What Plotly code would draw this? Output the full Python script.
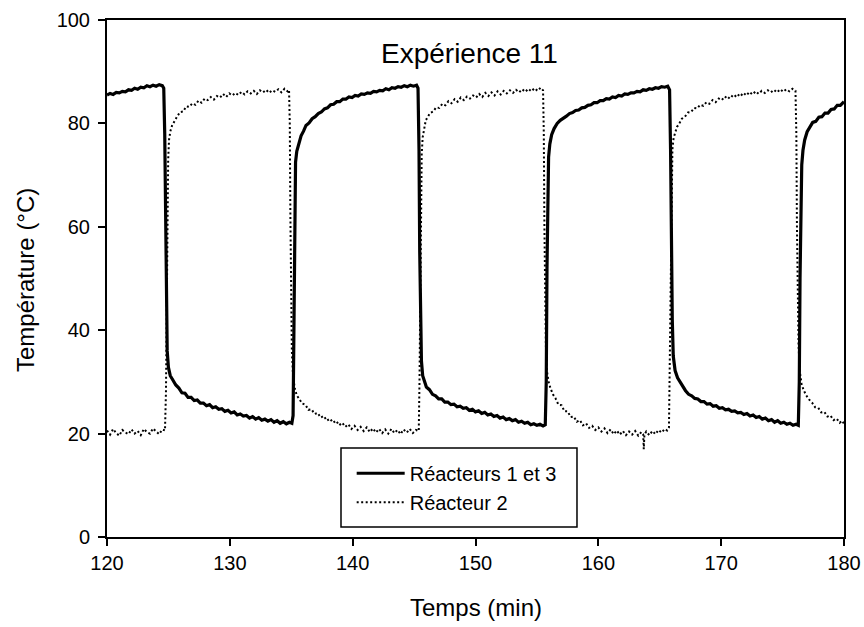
import plotly.graph_objects as go

# ---------------- data ----------------
time_r13 = [
    120.0, 120.25, 120.5, 120.75, 121.0, 121.25, 121.5, 121.75, 122.0, 122.25, 122.5, 122.75,
    123.0, 123.25, 123.5, 123.75, 124.0, 124.25, 124.5,
    124.62, 124.7, 124.76, 124.82, 124.9, 125.0, 125.15, 125.3, 125.45,
    125.6, 125.85, 126.1, 126.35, 126.6, 126.85, 127.1, 127.35, 127.6, 127.85, 128.1, 128.35,
    128.6, 128.85, 129.1, 129.35, 129.6, 129.85, 130.1, 130.35, 130.6, 130.85, 131.1, 131.35,
    131.6, 131.85, 132.1, 132.35, 132.6, 132.85, 133.1, 133.35, 133.6, 133.85, 134.1, 134.35,
    134.6, 134.85, 135.05,
    135.15, 135.22, 135.28, 135.35, 135.45, 135.6, 135.8, 136.0, 136.2, 136.45, 136.7, 136.95,
    137.2, 137.45, 137.7, 137.95, 138.2, 138.45, 138.7, 138.95, 139.2, 139.45, 139.7, 139.95,
    140.2, 140.45, 140.7, 140.95, 141.2, 141.45, 141.7, 141.95, 142.2, 142.45, 142.7, 142.95,
    143.2, 143.45, 143.7, 143.95, 144.2, 144.45, 144.7, 144.95, 145.2,
    145.32, 145.4, 145.46, 145.52, 145.6, 145.7, 145.85,
    146.0, 146.25, 146.5, 146.75, 147.0, 147.25, 147.5, 147.75, 148.0, 148.25, 148.5, 148.75,
    149.0, 149.25, 149.5, 149.75, 150.0, 150.25, 150.5, 150.75, 151.0, 151.25, 151.5, 151.75,
    152.0, 152.25, 152.5, 152.75, 153.0, 153.25, 153.5, 153.75, 154.0, 154.25, 154.5, 154.75,
    155.0, 155.25, 155.5, 155.68,
    155.76, 155.82, 155.88, 155.95, 156.05, 156.2, 156.4, 156.65, 156.9, 157.15, 157.4, 157.65,
    157.9, 158.15, 158.4, 158.65, 158.9, 159.15, 159.4, 159.65, 159.9, 160.15, 160.4, 160.65,
    160.9, 161.15, 161.4, 161.65, 161.9, 162.15, 162.4, 162.65, 162.9, 163.15, 163.4, 163.65,
    163.9, 164.15, 164.4, 164.65, 164.9, 165.15, 165.4, 165.65,
    165.8, 165.88, 165.95, 166.02, 166.1, 166.25, 166.45, 166.65,
    166.85, 167.1, 167.35, 167.6, 167.85, 168.1, 168.35, 168.6, 168.85, 169.1, 169.35, 169.6,
    169.85, 170.1, 170.35, 170.6, 170.85, 171.1, 171.35, 171.6, 171.85, 172.1, 172.35, 172.6,
    172.85, 173.1, 173.35, 173.6, 173.85, 174.1, 174.35, 174.6, 174.85, 175.1, 175.35, 175.6,
    175.85, 176.1, 176.28,
    176.36, 176.42, 176.48, 176.56, 176.66, 176.8, 177.0, 177.2, 177.45, 177.7, 177.95, 178.2,
    178.45, 178.7, 178.95, 179.2, 179.45, 179.7, 180.0,
]
temp_r13 = [
    85.5, 85.8, 85.6, 86.0, 85.9, 86.2, 86.1, 86.5, 86.4, 86.8, 86.6, 87.0,
    86.9, 87.3, 87.1, 87.4, 87.2, 87.5, 87.3,
    86.8, 78.0, 60.0, 45.0, 36.0, 32.8, 31.2, 30.6, 29.9,
    29.4, 28.8, 27.9, 27.8, 27.0, 27.0, 26.4, 26.5, 25.9, 25.9, 25.4, 25.6,
    25.0, 25.2, 24.7, 24.8, 24.3, 24.5, 24.0, 24.2, 23.6, 23.8, 23.4, 23.5,
    23.0, 23.3, 22.8, 23.1, 22.6, 22.8, 22.4, 22.7, 22.2, 22.5, 22.0, 22.3,
    21.9, 22.2, 22.0,
    23.5, 45.0, 66.0, 72.5, 74.6, 76.0, 77.6, 78.5, 79.6, 80.1, 80.9, 81.3,
    81.9, 82.2, 82.8, 83.0, 83.6, 83.7, 84.2, 84.2, 84.7, 84.7, 85.1, 85.0,
    85.4, 85.3, 85.7, 85.6, 85.9, 85.8, 86.2, 86.1, 86.4, 86.3, 86.7, 86.5,
    86.9, 86.8, 87.1, 87.0, 87.3, 87.1, 87.4, 87.2, 87.4,
    86.8, 75.0, 55.0, 42.0, 34.0, 31.2, 30.0,
    29.0, 28.5, 27.6, 27.3, 26.7, 26.7, 26.1, 26.1, 25.6, 25.7, 25.2, 25.3,
    24.9, 25.0, 24.5, 24.7, 24.2, 24.4, 23.9, 24.1, 23.6, 23.8, 23.3, 23.5,
    23.0, 23.2, 22.7, 22.9, 22.5, 22.7, 22.2, 22.4, 22.0, 22.2, 21.7, 21.9,
    21.6, 21.8, 21.5, 21.7,
    30.0, 52.0, 68.0, 73.5, 76.0, 77.8, 79.0, 80.0, 80.6, 81.1, 81.4, 81.9,
    82.1, 82.5, 82.6, 83.0, 83.1, 83.5, 83.6, 84.0, 84.0, 84.4, 84.4, 84.8,
    84.7, 85.1, 85.0, 85.4, 85.3, 85.7, 85.6, 85.9, 85.9, 86.2, 86.1, 86.5,
    86.4, 86.7, 86.6, 86.9, 86.8, 87.1, 87.0, 87.2,
    86.5, 75.0, 55.0, 42.0, 35.0, 32.2, 30.8, 30.0,
    29.0, 28.3, 27.6, 27.3, 26.8, 26.7, 26.2, 26.2, 25.7, 25.8, 25.3, 25.4,
    24.9, 25.0, 24.6, 24.7, 24.3, 24.4, 24.0, 24.1, 23.7, 23.9, 23.4, 23.6,
    23.1, 23.3, 22.8, 23.0, 22.5, 22.7, 22.2, 22.5, 22.0, 22.2, 21.8, 22.0,
    21.6, 21.8, 21.6,
    30.0, 50.0, 66.0, 72.0, 74.8, 76.8, 78.4, 79.2, 80.2, 80.4, 81.2, 81.3,
    82.0, 82.0, 82.7, 82.8, 83.5, 83.5, 84.2,
]

time_r2 = [
    120.0, 120.25, 120.5, 120.75, 121.0, 121.25, 121.5, 121.75, 122.0, 122.25, 122.5, 122.75,
    123.0, 123.25, 123.5, 123.75, 124.0, 124.25, 124.5, 124.72,
    124.8, 124.86, 124.92, 124.98, 125.05, 125.15, 125.3, 125.5, 125.7, 125.95, 126.2, 126.45,
    126.7, 126.95, 127.2, 127.45, 127.7, 127.95, 128.2, 128.45, 128.7, 128.95, 129.2, 129.45,
    129.7, 129.95, 130.2, 130.45, 130.7, 130.95, 131.2, 131.45, 131.7, 131.95, 132.2, 132.45,
    132.7, 132.95, 133.2, 133.45, 133.7, 133.95, 134.2, 134.45, 134.7, 134.82,
    134.88, 134.93, 134.98, 135.05, 135.15, 135.3, 135.45, 135.65, 135.9, 136.15, 136.4, 136.65,
    136.9, 137.15, 137.4, 137.65, 137.9, 138.15, 138.4, 138.65, 138.9, 139.15, 139.4, 139.65,
    139.9, 140.15, 140.4, 140.65, 140.9, 141.15, 141.4, 141.65, 141.9, 142.15, 142.4, 142.65,
    142.9, 143.15, 143.4, 143.65, 143.9, 144.15, 144.4, 144.65, 144.9, 145.15, 145.38,
    145.44, 145.5, 145.56, 145.62, 145.7, 145.82, 145.95, 146.1, 146.3, 146.55, 146.8, 147.05,
    147.3, 147.55, 147.8, 148.05, 148.3, 148.55, 148.8, 149.05, 149.3, 149.55, 149.8, 150.05,
    150.3, 150.55, 150.8, 151.05, 151.3, 151.55, 151.8, 152.05, 152.3, 152.55, 152.8, 153.05,
    153.3, 153.55, 153.8, 154.05, 154.3, 154.55, 154.8, 155.05, 155.3, 155.5,
    155.56, 155.61, 155.66, 155.73, 155.82, 155.95, 156.1, 156.3, 156.5, 156.75, 157.0, 157.25,
    157.5, 157.75, 158.0, 158.25, 158.5, 158.75, 159.0, 159.25, 159.5, 159.75, 160.0, 160.25,
    160.5, 160.75, 161.0, 161.25, 161.5, 161.75, 162.0, 162.25, 162.5, 162.75, 163.0, 163.25,
    163.5, 163.65, 163.7, 163.75, 163.9, 164.15, 164.4, 164.65, 164.9, 165.15, 165.4, 165.6,
    165.75,
    165.82, 165.88, 165.95, 166.03, 166.13, 166.25, 166.4, 166.6, 166.8, 167.05, 167.3, 167.55,
    167.8, 168.05, 168.3, 168.55, 168.8, 169.05, 169.3, 169.55, 169.8, 170.05, 170.3, 170.55,
    170.8, 171.05, 171.3, 171.55, 171.8, 172.05, 172.3, 172.55, 172.8, 173.05, 173.3, 173.55,
    173.8, 174.05, 174.3, 174.55, 174.8, 175.05, 175.3, 175.55, 175.8, 176.05,
    176.12, 176.17, 176.23, 176.3, 176.4, 176.55, 176.7, 176.9, 177.15, 177.4, 177.65, 177.9,
    178.15, 178.4, 178.65, 178.9, 179.15, 179.4, 179.65, 179.85, 180.0,
]
temp_r2 = [
    20.6, 19.8, 20.9, 20.1, 19.6, 20.7, 20.2, 19.9, 20.8, 20.0, 20.5, 19.7,
    20.9, 20.3, 20.0, 21.0, 20.4, 19.9, 20.8, 20.6,
    28.0, 45.0, 62.0, 73.0, 76.8, 78.4, 79.6, 80.6, 81.3, 82.2, 82.3, 83.3,
    83.2, 83.9, 83.6, 84.4, 84.0, 84.8, 84.5, 85.1, 84.6, 85.3, 85.0, 85.7,
    85.1, 85.8, 85.4, 85.9, 85.5, 86.1, 85.6, 86.2, 85.8, 86.3, 85.7, 86.4,
    86.0, 86.5, 85.9, 86.4, 86.1, 86.6, 86.0, 86.7, 86.2, 86.5,
    80.0, 62.0, 46.0, 36.0, 31.0, 28.6, 27.4, 26.6, 25.8, 25.6, 24.6, 24.7,
    23.8, 24.0, 23.1, 23.4, 22.5, 22.9, 22.1, 22.5, 21.6, 22.1, 21.3, 21.8,
    20.9, 21.5, 20.7, 21.3, 20.5, 21.2, 20.3, 21.0, 20.2, 20.9, 20.1, 20.8,
    20.0, 20.9, 20.1, 20.7, 19.9, 20.8, 20.2, 20.9, 20.1, 20.7, 20.5,
    30.0, 50.0, 67.0, 74.0, 77.3, 79.2, 80.6, 81.2, 82.0, 82.3, 83.1, 83.0,
    83.8, 83.5, 84.3, 83.9, 84.7, 84.2, 85.0, 84.5, 85.2, 84.8, 85.4, 85.0,
    85.7, 85.1, 85.9, 85.3, 86.0, 85.4, 86.2, 85.6, 86.3, 85.8, 86.4, 85.9,
    86.5, 86.0, 86.6, 86.1, 86.7, 86.2, 86.8, 86.3, 86.9, 86.4,
    78.0, 60.0, 46.0, 37.0, 32.0, 30.0, 28.8, 27.6, 26.9, 25.6, 25.5, 24.3,
    24.3, 23.2, 23.3, 22.3, 22.6, 21.6, 22.0, 21.1, 21.5, 20.7, 21.2, 20.4,
    21.0, 20.1, 20.8, 19.9, 20.6, 19.8, 20.5, 19.7, 20.4, 19.8, 20.5, 19.6,
    20.3, 19.9, 17.0, 19.8, 20.4, 19.7, 20.5, 19.9, 20.7, 20.2, 20.9, 20.6,
    21.2,
    35.0, 56.0, 70.0, 75.0, 77.2, 78.3, 79.3, 80.0, 80.9, 81.3, 82.1, 82.2,
    83.0, 82.9, 83.6, 83.4, 84.1, 83.8, 84.5, 84.1, 84.8, 84.5, 85.2, 84.7,
    85.4, 85.0, 85.7, 85.2, 85.9, 85.4, 86.1, 85.6, 86.2, 85.7, 86.3, 85.9,
    86.4, 86.0, 86.5, 86.0, 86.6, 86.1, 86.6, 86.2, 86.7, 86.3,
    78.0, 60.0, 46.0, 37.0, 32.0, 29.6, 28.5, 27.5, 26.6, 26.0, 25.1, 25.0,
    24.1, 24.2, 23.3, 23.5, 22.6, 22.9, 22.1, 22.5, 21.9,
]

x_ticks = [120, 130, 140, 150, 160, 170, 180]
y_ticks = [0, 20, 40, 60, 80, 100]
series_names = ["Réacteurs 1 et 3", "Réacteur 2"]
chart_title = "Expérience 11"
x_title = "Temps (min)"
y_title = "Température (°C)"

# ---------------- figure ----------------
FONT = "Liberation Sans, Arial, sans-serif"

fig = go.Figure()
fig.add_trace(go.Scatter(
    x=time_r13, y=temp_r13, mode="lines", name=series_names[0],
    line=dict(color="black", width=3.2),
))
fig.add_trace(go.Scatter(
    x=time_r2, y=temp_r2, mode="lines", name=series_names[1],
    line=dict(color="black", width=2, dash="2px,2.5px"),
))

axis_common = dict(
    showgrid=False, zeroline=False, showline=True, linecolor="black", linewidth=2,
    mirror=True, ticks="outside", ticklen=7, tickwidth=2, tickcolor="black",
    tickfont=dict(family=FONT, size=20, color="black"),
)

fig.update_xaxes(range=[120, 180], tickvals=x_ticks, ticktext=[str(v) for v in x_ticks],
                 automargin=False, **axis_common)
fig.update_yaxes(range=[0, 100], tickvals=y_ticks, ticktext=[str(v) for v in y_ticks],
                 automargin=False, ticklabelstandoff=4, **axis_common)

# legend box
fig.add_shape(type="rect", xref="paper", yref="paper",
              x0=0.3175, x1=0.6377, y0=0.0193, y1=0.1721,
              line=dict(color="black", width=1.5), fillcolor="white", layer="above")

fig.add_annotation(text=chart_title, xref="paper", yref="paper", x=0.4912, y=0.936,
                   xanchor="center", yanchor="middle", showarrow=False,
                   font=dict(family=FONT, size=28, color="black"))
fig.add_annotation(text=x_title, xref="paper", yref="paper", x=0.5, y=-0.137,
                   xanchor="center", yanchor="middle", showarrow=False,
                   font=dict(family=FONT, size=24, color="black"))
fig.add_annotation(text=y_title, xref="paper", yref="paper", x=-0.1113, y=0.497,
                   xanchor="center", yanchor="middle", showarrow=False, textangle=-90,
                   font=dict(family=FONT, size=24, color="black"))

fig.update_layout(
    width=864, height=627,
    margin=dict(l=107, r=20, t=20, b=90),
    paper_bgcolor="white", plot_bgcolor="white",
    showlegend=True,
    legend=dict(x=0.332, y=0.161, xanchor="left", yanchor="top",
                bgcolor="rgba(0,0,0,0)", borderwidth=0, itemwidth=48,
                font=dict(family=FONT, size=20, color="black"),
                tracegroupgap=0),
)

fig.write_html("out.html")
